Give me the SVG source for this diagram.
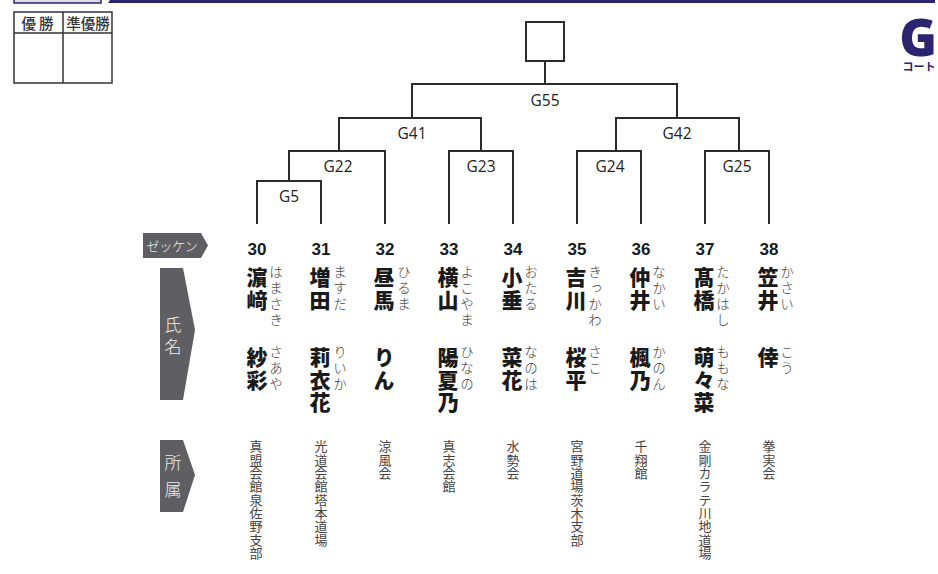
<svg xmlns="http://www.w3.org/2000/svg" width="938" height="574" viewBox="0 0 938 574">
<style>
.ln{fill:none;stroke:#2b2b2b;stroke-width:2}
.gl{font-family:"Open Sans","Noto Sans",sans-serif;font-weight:500;font-size:15.5px;fill:#222;text-anchor:middle}
.num{font-family:"Liberation Sans","Roboto",sans-serif;font-weight:bold;font-size:17px;fill:#1a1a1a;text-anchor:middle}
.v{writing-mode:vertical-rl;text-orientation:upright}
.kj{font-family:"Noto Sans CJK JP",sans-serif;font-weight:900;font-size:21px;letter-spacing:1.5px;fill:#1a1a1a}
.rb{font-family:"Noto Sans CJK JP",sans-serif;font-weight:300;font-size:13.5px;letter-spacing:2.5px;fill:#444}
.af{font-family:"Noto Sans CJK JP",sans-serif;font-weight:400;font-size:13px;letter-spacing:0.3px;fill:#444}
.tag{fill:#5f5f63}
.tt{font-family:"Noto Sans CJK JP",sans-serif;font-weight:300;fill:#eeeeee}
.nv{fill:#2b2570}
</style>
<g id="header">
<rect x="14" y="-2" width="87" height="5" fill="#dcdce8" stroke="#2b2570" stroke-width="1.5"/>
<polygon class="nv" points="110,0 935,0 935,3 108,3"/>
</g>
<g id="result-table">
<rect x="14" y="12" width="98" height="71" fill="#fff" stroke="#333" stroke-width="1.5"/>
<line x1="14" y1="33" x2="112" y2="33" stroke="#333" stroke-width="1.5"/>
<line x1="63" y1="12" x2="63" y2="83" stroke="#333" stroke-width="1.5"/>
<text x="39" y="29" font-family="Noto Sans CJK JP,sans-serif" font-weight="500" font-size="14.5" fill="#333" text-anchor="middle" letter-spacing="3">優勝</text>
<text x="88" y="29" font-family="Noto Sans CJK JP,sans-serif" font-weight="500" font-size="14.5" fill="#333" text-anchor="middle">準優勝</text>
</g>
<g id="court-logo">
<text x="937" y="56" font-family="Open Sans,sans-serif" font-weight="800" font-size="51" class="nv" text-anchor="end">G</text>
<text x="919" y="71" font-family="Noto Sans CJK JP,sans-serif" font-weight="bold" font-size="11" class="nv" text-anchor="middle">コート</text>
</g>
<g id="winner-box"><rect x="526" y="22" width="38" height="39" fill="#fff" stroke="#2b2b2b" stroke-width="2"/></g>
<g id="connectors">
<path class="ln" d="M545,61 V84 M412,118 V84 H677 V118"/>
<path class="ln" d="M339,151 V118 H481 V151 M616,151 V118 H739 V151"/>
<path class="ln" d="M289,181 V151 H385 V224 M449,224 V151 H513 V224 M577,224 V151 H641 V224 M705,224 V151 H769 V224"/>
<path class="ln" d="M257,224 V181 H321 V224"/>
</g>
<g id="match-labels">
<text class="gl" x="545" y="106">G55</text>
<text class="gl" x="412" y="139">G41</text>
<text class="gl" x="677" y="139">G42</text>
<text class="gl" x="338" y="172">G22</text>
<text class="gl" x="481" y="172">G23</text>
<text class="gl" x="610" y="172">G24</text>
<text class="gl" x="737" y="172">G25</text>
<text class="gl" x="289" y="202">G5</text>
</g>
<g id="row-tags">
<polygon class="tag" points="143,233 201,233 208,245.5 201,258 143,258"/>
<text class="tt" x="172" y="251" font-size="13" text-anchor="middle">ゼッケン</text>
<polygon class="tag" points="160,268 183,268 195,330 183,400 160,400"/>
<text class="tt v" x="173" y="316" font-size="17" letter-spacing="5">氏名</text>
<polygon class="tag" points="160,440 183,440 195,475 183,512 160,512"/>
<text class="tt v" x="173" y="454" font-size="17" letter-spacing="10">所属</text>
</g>
<g id="p30"><text class="num" x="257" y="255">30</text><text class="kj v" x="257" y="267">濵﨑</text><text class="rb v" x="276" y="265">はまさき</text><text class="kj v" x="257" y="347">紗彩</text><text class="rb v" x="276" y="345">さあや</text><text class="af v" x="256" y="440">真盟会館泉佐野支部</text></g>
<g id="p31"><text class="num" x="321" y="255">31</text><text class="kj v" x="320" y="267">増田</text><text class="rb v" x="340" y="265">ますだ</text><text class="kj v" x="320" y="347">莉衣花</text><text class="rb v" x="340" y="345">りいか</text><text class="af v" x="321" y="440">光道会館塔本道場</text></g>
<g id="p32"><text class="num" x="385" y="255">32</text><text class="kj v" x="384" y="267">昼馬</text><text class="rb v" x="404" y="265">ひるま</text><text class="kj v" x="384" y="347">りん</text><text class="af v" x="385" y="440">涼風会</text></g>
<g id="p33"><text class="num" x="449" y="255">33</text><text class="kj v" x="448" y="267">横山</text><text class="rb v" x="467" y="265">よこやま</text><text class="kj v" x="448" y="347">陽夏乃</text><text class="rb v" x="467" y="345">ひなの</text><text class="af v" x="449" y="440">真志会館</text></g>
<g id="p34"><text class="num" x="513" y="255">34</text><text class="kj v" x="512" y="267">小垂</text><text class="rb v" x="531" y="265">おたる</text><text class="kj v" x="512" y="347">菜花</text><text class="rb v" x="531" y="345">なのは</text><text class="af v" x="513" y="440">水勢会</text></g>
<g id="p35"><text class="num" x="577" y="255">35</text><text class="kj v" x="576" y="267">吉川</text><text class="rb v" x="595" y="265">きっかわ</text><text class="kj v" x="576" y="347">桜平</text><text class="rb v" x="595" y="345">さこ</text><text class="af v" x="577" y="440">宮野道場茨木支部</text></g>
<g id="p36"><text class="num" x="641" y="255">36</text><text class="kj v" x="640" y="267">仲井</text><text class="rb v" x="659" y="265">なかい</text><text class="kj v" x="640" y="347">楓乃</text><text class="rb v" x="659" y="345">かのん</text><text class="af v" x="641" y="440">千翔館</text></g>
<g id="p37"><text class="num" x="705" y="255">37</text><text class="kj v" x="704" y="267">髙橋</text><text class="rb v" x="723" y="265">たかはし</text><text class="kj v" x="704" y="347">萌々菜</text><text class="rb v" x="723" y="345">ももな</text><text class="af v" x="705" y="440">金剛カラテ川地道場</text></g>
<g id="p38"><text class="num" x="769" y="255">38</text><text class="kj v" x="768" y="267">笠井</text><text class="rb v" x="787" y="265">かさい</text><text class="kj v" x="768" y="347">倖</text><text class="rb v" x="787" y="345">こう</text><text class="af v" x="769" y="440">拳実会</text></g>
</svg>
